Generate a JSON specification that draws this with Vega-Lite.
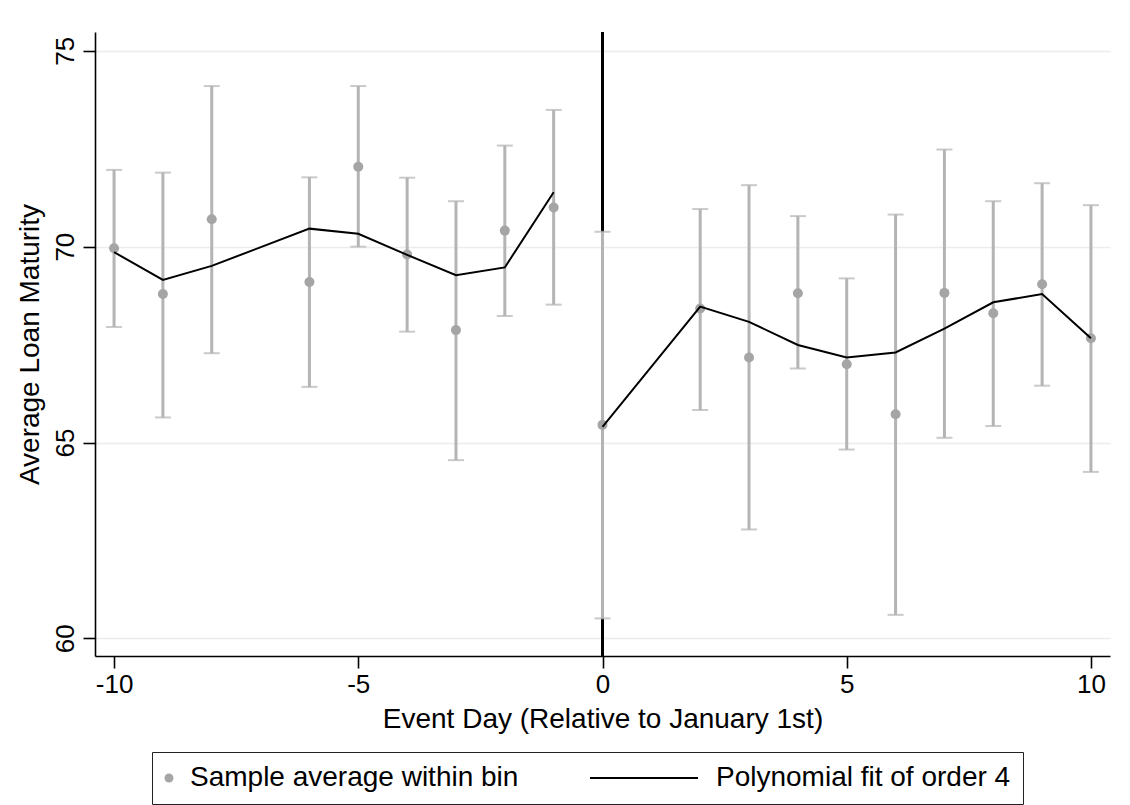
{
  "$schema": "https://vega.github.io/schema/vega-lite/v6.json",
  "width": 1015,
  "height": 624,
  "autosize": {"type": "none"},
  "padding": {"left": 95, "top": 32, "right": 20, "bottom": 149},
  "background": "#ffffff",
  "config": {
    "font": "Liberation Sans",
    "view": {"stroke": null},
    "axis": {
      "domainColor": "#000000", "domainWidth": 1.6,
      "tickColor": "#000000", "tickWidth": 1.6, "tickSize": 12,
      "labelFontSize": 26, "labelColor": "#000000", "labelFont": "Liberation Sans",
      "titleFontSize": 28, "titleFontWeight": "normal", "titleColor": "#000000", "titleFont": "Liberation Sans"
    }
  },
  "datasets": {
    "bins": [
      {"x": -10, "mean": 69.96, "lo": 67.95, "hi": 71.96, "fit": 69.86, "side": "pre"},
      {"x": -9, "mean": 68.79, "lo": 65.64, "hi": 71.89, "fit": 69.15, "side": "pre"},
      {"x": -8, "mean": 70.70, "lo": 67.28, "hi": 74.10, "fit": 69.51, "side": "pre"},
      {"x": -6, "mean": 69.10, "lo": 66.42, "hi": 71.77, "fit": 70.46, "side": "pre"},
      {"x": -5, "mean": 72.04, "lo": 70.00, "hi": 74.10, "fit": 70.33, "side": "pre"},
      {"x": -4, "mean": 69.80, "lo": 67.83, "hi": 71.76, "fit": 69.79, "side": "pre"},
      {"x": -3, "mean": 67.87, "lo": 64.55, "hi": 71.16, "fit": 69.27, "side": "pre"},
      {"x": -2, "mean": 70.41, "lo": 68.23, "hi": 72.58, "fit": 69.47, "side": "pre"},
      {"x": -1, "mean": 71.00, "lo": 68.52, "hi": 73.49, "fit": 71.39, "side": "pre"},
      {"x": 0, "mean": 65.45, "lo": 60.51, "hi": 70.38, "fit": 65.40, "side": "post"},
      {"x": 2, "mean": 68.42, "lo": 65.83, "hi": 70.96, "fit": 68.47, "side": "post"},
      {"x": 3, "mean": 67.17, "lo": 62.78, "hi": 71.57, "fit": 68.08, "side": "post"},
      {"x": 4, "mean": 68.81, "lo": 66.89, "hi": 70.78, "fit": 67.49, "side": "post"},
      {"x": 5, "mean": 67.00, "lo": 64.82, "hi": 69.19, "fit": 67.17, "side": "post"},
      {"x": 6, "mean": 65.72, "lo": 60.60, "hi": 70.82, "fit": 67.30, "side": "post"},
      {"x": 7, "mean": 68.82, "lo": 65.12, "hi": 72.48, "fit": 67.91, "side": "post"},
      {"x": 8, "mean": 68.30, "lo": 65.42, "hi": 71.16, "fit": 68.58, "side": "post"},
      {"x": 9, "mean": 69.04, "lo": 66.45, "hi": 71.62, "fit": 68.79, "side": "post"},
      {"x": 10, "mean": 67.66, "lo": 64.25, "hi": 71.06, "fit": 67.66, "side": "post"}
    ]
  },
  "data": {"name": "bins"},
  "layer": [
    {
      "mark": {"type": "rule", "color": "#000000", "strokeWidth": 2},
      "encoding": {
        "x": {"datum": 0, "type": "quantitative", "scale": {"domain": [-10.39, 10.39], "nice": false, "zero": false},
          "axis": {"title": "Event Day (Relative to January 1st)", "values": [-10, -5, 0, 5, 10], "labelExpr": "'' + datum.value", "grid": false, "labelPadding": 3, "titlePadding": 8}}
      }
    },
    {
      "mark": {"type": "errorbar", "color": "#b4b4b4", "ticks": {"size": 16, "thickness": 2}, "rule": {"strokeWidth": 3}},
      "encoding": {
        "x": {"field": "x", "type": "quantitative", "scale": {"domain": [-10.39, 10.39], "nice": false, "zero": false}},
        "y": {"field": "lo", "type": "quantitative", "scale": {"domain": [59.55, 75.48], "nice": false, "zero": false},
          "axis": {"title": "Average Loan Maturity", "values": [60, 65, 70, 75], "grid": true, "gridColor": "#ececec", "gridWidth": 1.5, "labelAngle": -90, "labelPadding": 5, "titlePadding": 8}},
        "y2": {"field": "hi"}
      }
    },
    {
      "mark": {"type": "circle", "size": 100, "opacity": 1},
      "encoding": {
        "x": {"field": "x", "type": "quantitative", "scale": {"domain": [-10.39, 10.39], "nice": false, "zero": false}},
        "y": {"field": "mean", "type": "quantitative", "scale": {"domain": [59.55, 75.48], "nice": false, "zero": false}},
        "color": {
          "datum": "Sample average within bin",
          "scale": {"domain": ["Sample average within bin", "Polynomial fit of order 4"], "range": ["#a5a5a5", "#000000"]},
          "legend": {
            "orient": "none", "legendX": 57, "legendY": 720,
            "direction": "horizontal", "columns": 2, "columnPadding": 67,
            "title": null, "labelFontSize": 28, "labelFont": "Liberation Sans", "labelColor": "#000000", "labelLimit": 1000,
            "padding": 12, "strokeColor": "#222222", "fillColor": "#ffffff",
            "encoding": {
              "symbols": {
                "shape": {"value": {"expr": "datum.value === 'Polynomial fit of order 4' ? 'stroke' : 'circle'"}},
                "size": {"value": {"expr": "datum.value === 'Polynomial fit of order 4' ? 11664 : 80"}},
                "strokeWidth": {"value": {"expr": "datum.value === 'Polynomial fit of order 4' ? 2 : 0"}},
                "x": {"value": {"expr": "datum.value === 'Polynomial fit of order 4' ? 54 : 5"}},
                "y": {"value": 14},
                "opacity": {"value": 1}
              },
              "labels": {
                "x": {"value": {"expr": "datum.value === 'Polynomial fit of order 4' ? 126 : 26"}},
                "y": {"value": 14}
              }
            }
          }
        }
      }
    },
    {
      "mark": {"type": "line", "strokeWidth": 2},
      "encoding": {
        "x": {"field": "x", "type": "quantitative", "scale": {"domain": [-10.39, 10.39], "nice": false, "zero": false}},
        "y": {"field": "fit", "type": "quantitative", "scale": {"domain": [59.55, 75.48], "nice": false, "zero": false}},
        "detail": {"field": "side", "type": "nominal"},
        "color": {"datum": "Polynomial fit of order 4"}
      }
    }
  ]
}
